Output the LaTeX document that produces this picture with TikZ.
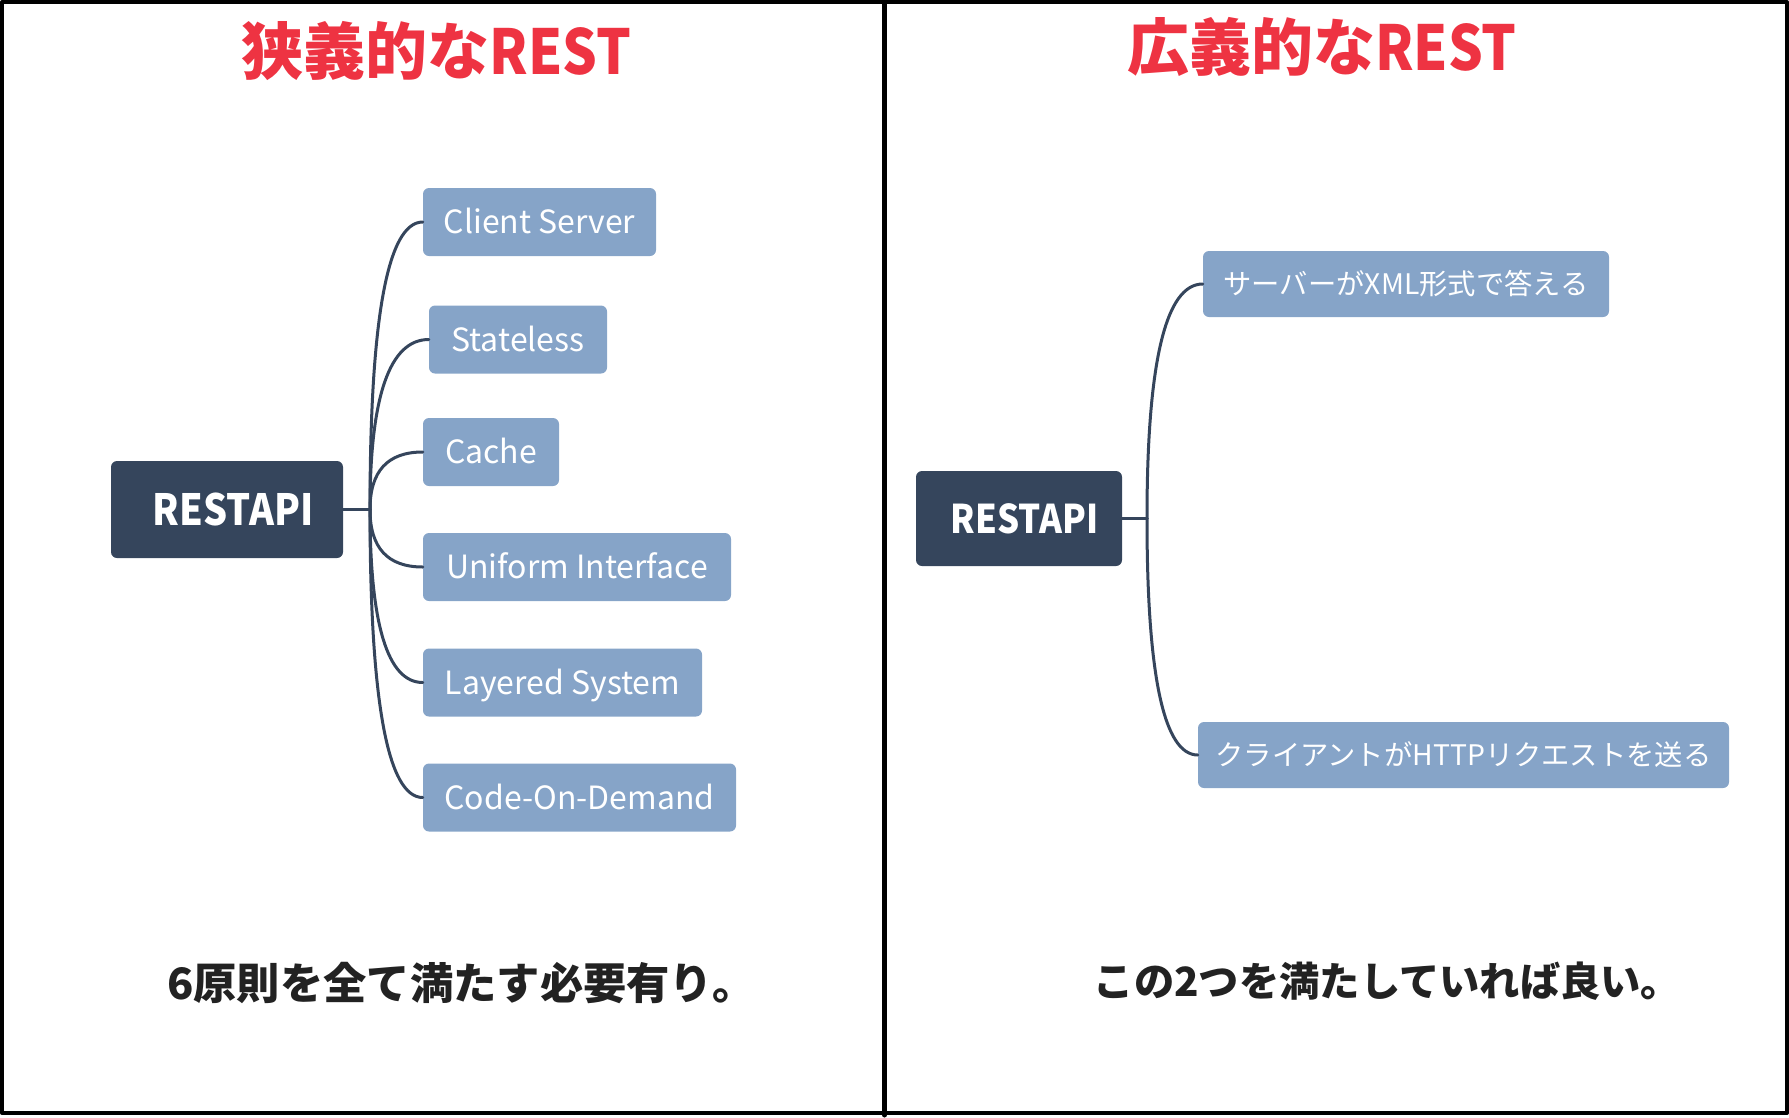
\documentclass[tikz,border=0pt]{standalone}
\usepackage{fontspec}
\setmainfont{Noto Sans CJK JP}
\newfontfamily\narrowfont{Noto Sans CJK JP}[FakeStretch=0.88]
\newcommand{\narrowbf}[1]{{\narrowfont\bfseries #1}}
\usetikzlibrary{calc}

\definecolor{rootblue}{HTML}{35455C}
\definecolor{leafblue}{HTML}{86A4C8}
\definecolor{titlered}{HTML}{EE3342}
\definecolor{notegray}{HTML}{222222}

\begin{document}
\begin{tikzpicture}[x=1pt, y=-1pt, line join=round, line cap=round,
	root/.style={fill=rootblue, text=white, rounded corners=6, inner sep=0pt, text depth=0pt},
	leaf/.style={fill=leafblue, text=white, rounded corners=6, inner sep=0pt, text depth=0pt, minimum height=68},
	title/.style={text=titlered, inner sep=0pt, text depth=0pt, text height=44, font=\fontsize{62}{70}\selectfont\bfseries},
	note/.style={text=notegray, inner sep=0pt, text depth=0pt, text height=31},
	conn/.style={draw=rootblue, line width=3}]
	% Khung
	\useasboundingbox (0,0) rectangle (1789,1117);
	\draw[line width=4] (2,2) rectangle (1787,1113);
	\draw[line width=5] (884.5,0)--(884.5,1115);
	
	% Tiêu đề
	\node[title] (ltitle) at (436.5,52) {狭義的な\narrowbf{REST}};
	\node[title] (rtitle) at (1322,48) {広義的な\narrowbf{REST}};
	
	% Bên trái
	\node[root, minimum width=232, minimum height=97, text height=31.5, font=\fontsize{43}{50}\selectfont] (lroot) at (227,509.5) {\hspace*{12pt}\narrowbf{RESTAPI}};
	\coordinate (lhub) at (370,509.5);
	\begin{scope}[every node/.append style={leaf, text height=23.5, font=\fontsize{32}{38}\selectfont}]
		\node[minimum width=233] (cs) at (539.5,222) {Client Server};
		\node[minimum width=178] (sl) at (518,339.5) {Stateless};
		\node[minimum width=136] (ca) at (491,452) {Cache};
		\node[minimum width=308] (ui) at (577,567) {Uniform Interface};
		\node[minimum width=279] (ls) at (562.5,682.5) {Layered System};
		\node[minimum width=313] (cd) at (579.5,797.5) {Code-On-Demand};
	\end{scope}
	\draw[conn] (lroot.east)--(lhub);
	\foreach \n in {cs,sl,ca,ui,ls,cd}
		\draw[conn] (lhub) .. controls ($(lhub)!2/3!(lhub |- \n.west)$) and ($(\n.west)!2/3!(lhub |- \n.west)$) .. (\n.west);
	
	% Bên phải
	\node[root, minimum width=206, minimum height=95, text height=29, font=\fontsize{39.5}{46}\selectfont] (rroot) at (1019,518.5) {\hspace*{11pt}\narrowbf{RESTAPI}};
	\coordinate (rhub) at (1147,518.5);
	\begin{scope}[every node/.append style={leaf, minimum height=66, text height=20.5, font=\fontsize{28.3}{34}\selectfont}]
		\node[minimum width=406] (xml) at (1406,284) {サーバーがXML形式で答える};
		\node[minimum width=531] (http) at (1463.5,755) {クライアントがHTTPリクエストを送る};
	\end{scope}
	\draw[conn] (rroot.east)--(rhub);
	\foreach \n in {xml,http}
		\draw[conn] (rhub) .. controls ($(rhub)!2/3!(rhub |- \n.west)$) and ($(\n.west)!2/3!(rhub |- \n.west)$) .. (\n.west);
	
	% Ghi chú
	\node[note, font=\fontsize{43.3}{50}\selectfont\bfseries] (lnote) at (461.5,984) {6原則を全て満たす必要有り。};
	\node[note, font=\fontsize{40.3}{48}\selectfont\bfseries] (rnote) at (1387.5,980.5) {この2つを満たしていれば良い。};
\end{tikzpicture}
\end{document}
